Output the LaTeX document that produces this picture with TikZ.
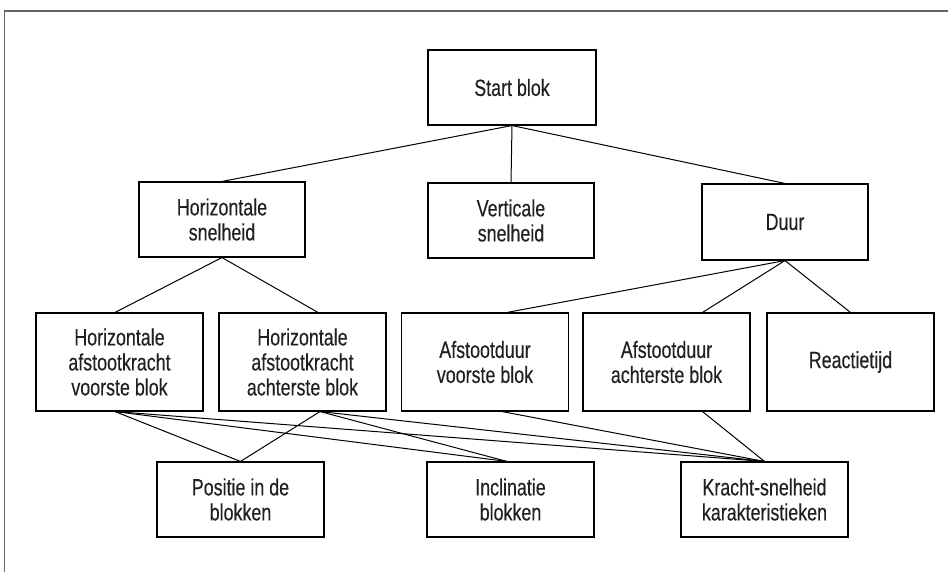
\documentclass[tikz,border=0pt]{standalone}
\usepackage{fontspec}
\setmainfont{Liberation Sans}[FakeStretch=0.76,FakeBold=0.3]
\definecolor{textcol}{HTML}{231F20}
\definecolor{framecol}{HTML}{666666}
\begin{document}
\begin{tikzpicture}[x=1pt,y=-1pt,
  box/.style={draw=black, line width=1.1pt, minimum width=167pt, minimum height=75pt,
    align=center, inner sep=0pt, text=textcol, font=\fontsize{23.5}{25}\selectfont},
  tall/.style={minimum height=98pt},
  conn/.style={draw=black, line width=1pt}]
\useasboundingbox (0,0) rectangle (948,572);
\draw[framecol, line width=1.5pt] (4.5,572) -- (4.5,11) -- (948,11);

\node[box, minimum width=168pt] (start) at (512,87.5) {Start blok};
\node[box, minimum width=166pt] (hs) at (222,219.5) {Horizontale\\snelheid};
\node[box, minimum width=166pt] (vs) at (511,220.5) {Verticale\\snelheid};
\node[box, minimum width=166pt, minimum height=76pt] (duur) at (785,222) {Duur};

\node[box, tall] (hav) at (119.5,362) {Horizontale\\afstootkracht\\voorste blok};
\node[box, tall] (haa) at (302.5,362) {Horizontale\\afstootkracht\\achterste blok};
\node[box, tall] (av) at (485,362) {Afstootduur\\voorste blok};
\node[box, tall] (aa) at (666.5,362) {Afstootduur\\achterste blok};
\node[box, tall] (re) at (850.5,362) {Reactietijd};

\node[box] (pos) at (240.5,499.5) {Positie in de\\blokken};
\node[box] (inc) at (510.5,499.5) {Inclinatie\\blokken};
\node[box] (kr) at (764.5,499.5) {Kracht-snelheid\\karakteristieken};

\draw[conn] (start.south) -- (hs.north);
\draw[conn] (start.south) -- (vs.north);
\draw[conn] (start.south) -- (duur.north);
\draw[conn] (hs.south) -- ([xshift=-4.5pt]hav.north);
\draw[conn] (hs.south) -- ([xshift=15.5pt]haa.north);
\draw[conn] (duur.south) -- ([xshift=22pt]av.north);
\draw[conn] (duur.south) -- ([xshift=36pt]aa.north);
\draw[conn] (duur.south) -- (re.north);

\coordinate (havb) at ([xshift=-4.5pt]hav.south);
\coordinate (haab) at ([xshift=17.5pt]haa.south);
\coordinate (avb) at ([xshift=17pt]av.south);
\coordinate (aab) at ([xshift=36pt]aa.south);
\coordinate (inct) at ([xshift=-3.5pt]inc.north);

\draw[conn] (havb) -- (pos.north);
\draw[conn] (havb) -- (inct);
\draw[conn] (havb) -- (kr.north);
\draw[conn] (haab) -- (pos.north);
\draw[conn] (haab) -- (inct);
\draw[conn] (haab) -- (kr.north);
\draw[conn] (avb) -- (kr.north);
\draw[conn] (aab) -- (kr.north);
\end{tikzpicture}
\end{document}
